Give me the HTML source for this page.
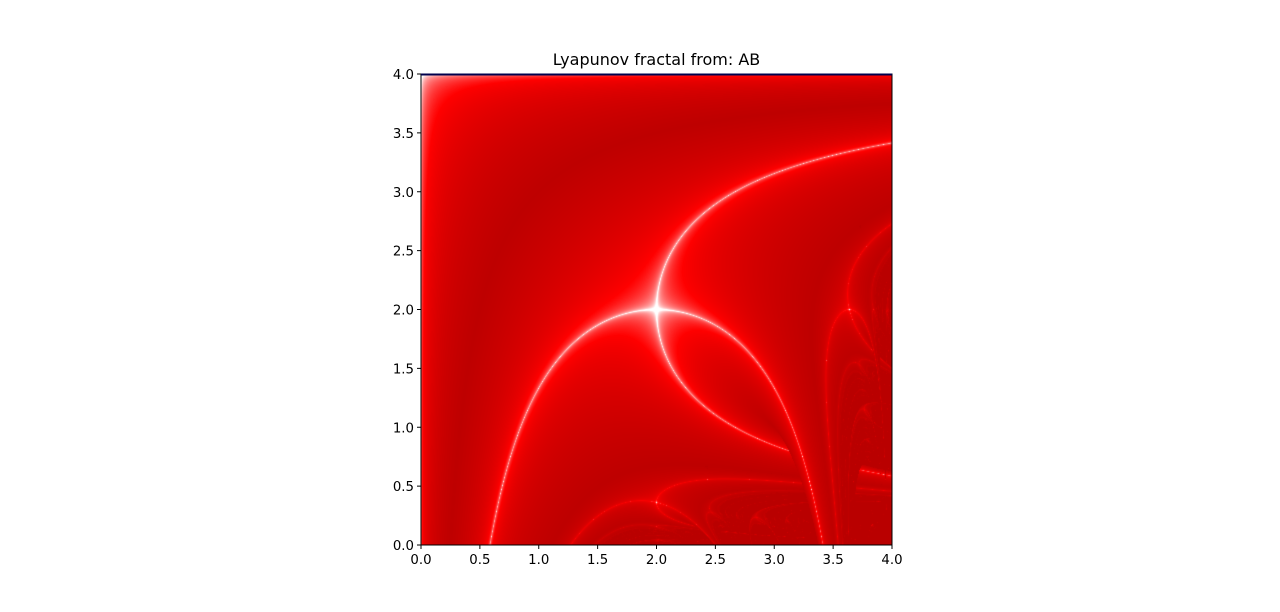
<!DOCTYPE html>
<html><head><meta charset="utf-8"><style>
body{margin:0;background:#fff;width:1280px;height:612px;overflow:hidden;font-family:"DejaVu Sans","Liberation Sans",sans-serif;}
#wrap{position:relative;width:1280px;height:612px;}
canvas{position:absolute;left:421px;top:74px;}
svg{position:absolute;left:0;top:0;}
</style></head><body>
<div id="wrap">
<canvas id="cv" width="471" height="471"></canvas>
<svg id="ax" width="1280" height="612" font-family="DejaVu Sans, Liberation Sans, sans-serif"></svg>
</div>
<script>
const sequence = ["A","B"];
const aRange = [0, 4];
const bRange = [0, 4];
const xTicks = [0.0,0.5,1.0,1.5,2.0,2.5,3.0,3.5,4.0];
const yTicks = [0.0,0.5,1.0,1.5,2.0,2.5,3.0,3.5,4.0];
const titleText = "Lyapunov fractal from: AB";

const L=421,T=74,W=471,H=471;
const xs=v=>L+(v-aRange[0])/(aRange[1]-aRange[0])*W;
const ys=v=>T+H-(v-bRange[0])/(bRange[1]-bRange[0])*H;

function colorOf(lam){
  if(lam>=0) return [185,0,0];
  const u=-lam;
  if(u<=1.5) return [190+65*u/1.5,0,0];
  const w=255*Math.min(1,(u-1.5)/2.5);
  return [255,w,w];
}
const cv=document.getElementById('cv');const ctx=cv.getContext('2d');
const img=ctx.createImageData(W,H);
const seqLen=sequence.length;
for(let py=0;py<H;py++){
  const b=bRange[0]+(py+0.5)/H*(bRange[1]-bRange[0]);
  for(let px=0;px<W;px++){
    const a=aRange[0]+(px+0.5)/W*(aRange[1]-aRange[0]);
    let x=0.5,s=0,n=0;
    for(let i=0;i<100;i++){const r=sequence[i%seqLen]==="A"?a:b;x=r*x*(1-x);}
    for(let i=0;i<200;i++){const r=sequence[i%seqLen]==="A"?a:b;x=r*x*(1-x);s+=Math.log(Math.abs(r*(1-2*x))+1e-300);n++;}
    const lam=s/n;
    const c=colorOf(lam);
    const k=(py*W+px)*4;
    img.data[k]=c[0];img.data[k+1]=c[1];img.data[k+2]=c[2];img.data[k+3]=255;
  }
}
ctx.putImageData(img,0,0);

const svg=document.getElementById('ax');const NS='http://www.w3.org/2000/svg';
function mk(tag,at,name){const e=document.createElementNS(NS,tag);for(const k in at)e.setAttribute(k,at[k]);


svg.appendChild(e);return e;}
mk('rect',{x:L,y:T,width:W,height:H,fill:'none',stroke:'#000','stroke-width':1},'plot-frame');
mk('line',{x1:L,y1:T+0.5,x2:L+W,y2:T+0.5,stroke:'#00004c','stroke-width':2},'top-edge');
xTicks.forEach(v=>{const x=xs(v);
 mk('line',{x1:x,y1:T+H,x2:x,y2:T+H+4,stroke:'#000'},'x-tick');
 const t=mk('text',{x:x,y:T+H+19,'text-anchor':'middle','font-size':'13.3',fill:'#000'},'x-tick-label');t.textContent=v.toFixed(1);});
yTicks.forEach(v=>{const y=ys(v);
 mk('line',{x1:L-4,y1:y,x2:L,y2:y,stroke:'#000'},'y-tick');
 const t=mk('text',{x:L-7,y:y+5,'text-anchor':'end','font-size':'13.3',fill:'#000'},'y-tick-label');t.textContent=v.toFixed(1);});
const tt=mk('text',{x:L+W/2,y:65,'text-anchor':'middle','font-size':'16',fill:'#000'},'chart-title');tt.textContent=titleText;
</script>
</body></html>
